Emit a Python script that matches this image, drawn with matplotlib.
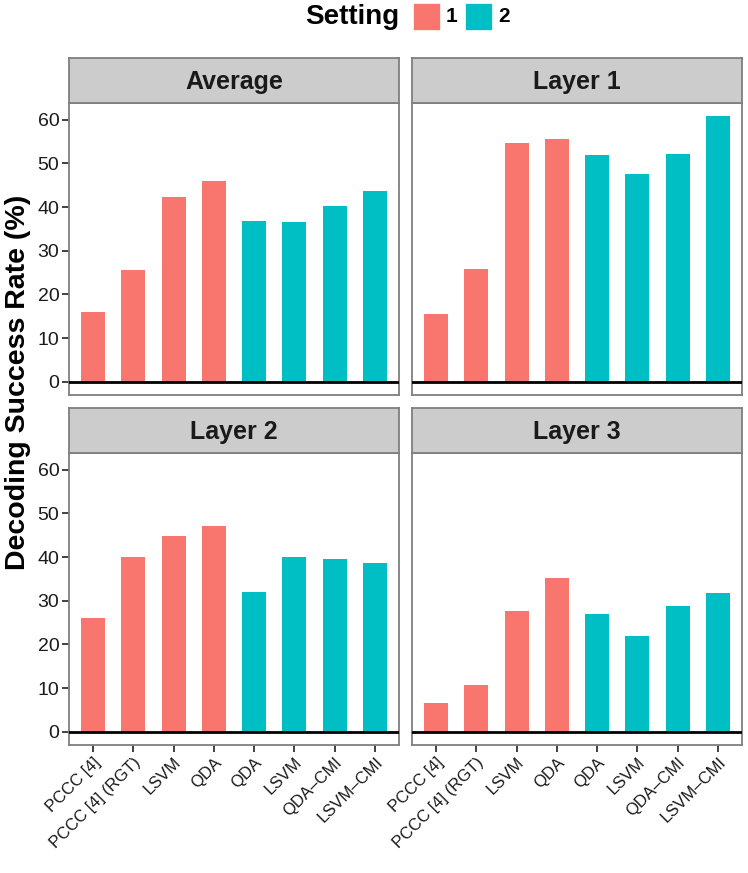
import matplotlib
matplotlib.use("Agg")
import matplotlib.pyplot as plt
from matplotlib.patches import Rectangle

plt.rcParams['font.family'] = ['Liberation Sans', 'DejaVu Sans']

# Data
methods = ['PCCC [4]', 'PCCC [4] (RGT)', 'LSVM', 'QDA', 'QDA', 'LSVM', 'QDA\u2013CMI', 'LSVM\u2013CMI']
setting = [1, 1, 1, 1, 2, 2, 2, 2]
panels = ['Average', 'Layer 1', 'Layer 2', 'Layer 3']
avg_rate = [16.0, 25.6, 42.4, 45.9, 36.9, 36.5, 40.2, 43.7]
layer1_rate = [15.6, 25.8, 54.7, 55.6, 51.9, 47.5, 52.2, 60.8]
layer2_rate = [26.0, 40.1, 44.9, 47.1, 31.9, 40.1, 39.5, 38.6]
layer3_rate = [6.5, 10.7, 27.7, 35.1, 27.0, 21.9, 28.9, 31.8]
values = [avg_rate, layer1_rate, layer2_rate, layer3_rate]

colors = {1: '#F8766D', 2: '#00BFC4'}
border = '#7F7F7F'

W, H = 748, 873
fig = plt.figure(figsize=(W / 100, H / 100), dpi=100)

def px_axes(x0, y0, x1, y1):
    return fig.add_axes([x0 / W, 1 - y1 / H, (x1 - x0) / W, (y1 - y0) / H])

# panel boxes in pixels: (left, top, right, bottom)
boxes = [(69, 103, 399, 395), (412, 103, 742, 395),
         (69, 453, 399, 745), (412, 453, 742, 745)]
strip_h = 45

xpos = list(range(1, len(methods) + 1))
ymax = max(max(v) for v in values)

for i, (name, vals, box) in enumerate(zip(panels, values, boxes)):
    x0, y0, x1, y1 = box
    ax = px_axes(x0, y0, x1, y1)
    ax.bar(xpos, vals, width=0.6, color=[colors[s] for s in setting], zorder=2)
    ax.axhline(0, color='black', lw=2, zorder=3)
    ax.set_xlim(0.4, len(methods) + 0.6)
    ax.set_ylim(-0.05 * ymax, ymax * 1.05)
    ax.set_yticks([0, 10, 20, 30, 40, 50, 60])
    ax.set_xticks(xpos)
    for sp in ax.spines.values():
        sp.set_color(border)
        sp.set_linewidth(1.3)
    ax.tick_params(length=5, width=1.3, color='#333333', labelsize=14, pad=2,
                   labelcolor='#1A1A1A')
    if i % 2 == 1:
        ax.tick_params(axis='y', left=False, labelleft=False)
    if i < 2:
        ax.tick_params(axis='x', bottom=False, labelbottom=False)
    else:
        ax.set_xticklabels(methods, rotation=45, ha='right', rotation_mode='anchor',
                           fontsize=12)
    # strip
    sax = px_axes(x0, y0 - strip_h, x1, y0)
    sax.set_facecolor('#CCCCCC')
    sax.set_xticks([])
    sax.set_yticks([])
    for sp in sax.spines.values():
        sp.set_color(border)
        sp.set_linewidth(1.3)
    sax.text(0.5, 0.47, name, ha='center', va='center', fontsize=18,
             fontweight='bold', color='#1A1A1A', transform=sax.transAxes)

fig.text(18 / W, 1 - 382 / H, 'Decoding Success Rate (%)', rotation=90, ha='center',
         va='center', fontsize=20.5, fontweight='bold')

# legend
fig.text(399 / W, 1 - 17 / H, 'Setting', ha='right', va='center', fontsize=20,
         fontweight='bold')
for k, (lx, lab) in enumerate([(413, '1'), (465, '2')]):
    fig.patches.append(Rectangle((lx / W, 1 - 30 / H), 27 / W, 27 / H,
                                 transform=fig.transFigure, color=colors[k + 1],
                                 ec='white', lw=0.5))
    fig.text((lx + 33) / W, 1 - 17 / H, lab, ha='left', va='center', fontsize=15,
             fontweight='bold')

fig.savefig('out.png', dpi=100)
